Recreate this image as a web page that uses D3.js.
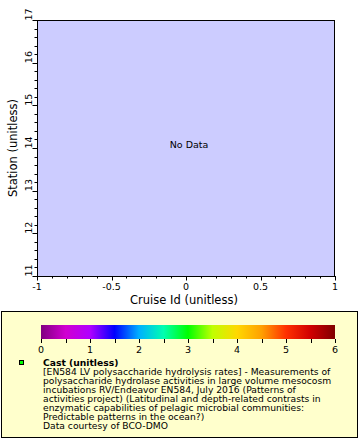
<!DOCTYPE html>
<html>
<head>
<meta charset="utf-8">
<script src="https://cdn.jsdelivr.net/npm/d3@7"></script>
<style>
  html, body { margin: 0; padding: 0; background: #ffffff; }
  svg { display: block; }
  text { font-family: "DejaVu Sans", sans-serif; }
</style>
</head>
<body>
<div id="chart"></div>
<script>
// ---- data ----
const xDomain = [-1, 1];
const yDomain = [11, 17];
const xTicks = [-1, -0.5, 0, 0.5, 1];
const xTickLabels = ["-1", "-0.5", "0", "0.5", "1"];
const yTicks = [11, 12, 13, 14, 15, 16, 17];
const yTickLabels = ["11", "12", "13", "14", "15", "16", "17"];
const xTitle = "Cruise Id (unitless)";
const yTitle = "Station (unitless)";
const noDataText = "No Data";
const cbarDomain = [0, 6];
const cbarTicks = [0, 1, 2, 3, 4, 5, 6];
const cbarStopValues = [0, 0.5, 1, 1.5, 2, 2.5, 3, 3.5, 4, 4.5, 5, 5.5, 6];
const cbarStopColors = ["#800080", "#d000d0", "#b000ff", "#0000ff", "#00b0ff", "#00ffb0", "#00ff00",
                        "#c0ff00", "#ffd800", "#ffa000", "#ff3000", "#d00000", "#800000"];
const legendTitle = "Cast (unitless)";
const legendLines = [
  "[EN584 LV polysaccharide hydrolysis rates] - Measurements of",
  "polysaccharide hydrolase activities in large volume mesocosm",
  "incubations RV/Endeavor EN584, July 2016 (Patterns of",
  "activities project) (Latitudinal and depth-related contrasts in",
  "enzymatic capabilities of pelagic microbial communities:",
  "Predictable patterns in the ocean?)",
  "Data courtesy of BCO-DMO"
];
const markerColor = "#00ff00";

// ---- layout ----
const W = 360, H = 440;
const plot = { left: 37, top: 20, right: 335, bottom: 276 };

const svg = d3.select("#chart").append("svg")
  .attr("width", W).attr("height", H);

const x = d3.scaleLinear().domain(xDomain).range([plot.left, plot.right]);
const y = d3.scaleLinear().domain(yDomain).range([plot.bottom, plot.top]);

// plot background
svg.append("rect")
  .attr("x", plot.left).attr("y", plot.top)
  .attr("width", plot.right - plot.left).attr("height", plot.bottom - plot.top)
  .attr("fill", "#ccccff");

// minor ticks
const xMinor = d3.range(-1, 1.0001, 0.1).map(v => +v.toFixed(2));
const yMinor = d3.range(11, 17.0001, 0.2).map(v => +v.toFixed(2));

const xAxisG = svg.append("g");
xAxisG.selectAll("line.minor").data(xMinor).join("line")
  .attr("x1", d => Math.round(x(d)) + 0.5).attr("x2", d => Math.round(x(d)) + 0.5)
  .attr("y1", plot.bottom).attr("y2", plot.bottom + 2.5)
  .attr("stroke", "#000").attr("stroke-width", 1);
xAxisG.selectAll("line.major").data(xTicks).join("line")
  .attr("x1", d => Math.round(x(d)) + 0.5).attr("x2", d => Math.round(x(d)) + 0.5)
  .attr("y1", plot.bottom).attr("y2", plot.bottom + 4.5)
  .attr("stroke", "#000").attr("stroke-width", 1);
xAxisG.selectAll("text").data(xTicks).join("text")
  .attr("x", d => x(d)).attr("y", 290)
  .attr("text-anchor", "middle")
  .attr("font-size", 9.5)
  .attr("fill", "#000")
  .text((d, i) => xTickLabels[i]);

const yAxisG = svg.append("g");
yAxisG.selectAll("line.minor").data(yMinor).join("line")
  .attr("y1", d => Math.round(y(d)) + 0.5).attr("y2", d => Math.round(y(d)) + 0.5)
  .attr("x1", plot.left).attr("x2", plot.left - 2.5)
  .attr("stroke", "#000").attr("stroke-width", 1);
yAxisG.selectAll("line.major").data(yTicks).join("line")
  .attr("y1", d => Math.round(y(d)) + 0.5).attr("y2", d => Math.round(y(d)) + 0.5)
  .attr("x1", plot.left).attr("x2", plot.left - 4.5)
  .attr("stroke", "#000").attr("stroke-width", 1);
yAxisG.selectAll("text").data(yTicks).join("text")
  .attr("transform", d => `translate(31.8,${y(d) + 0.5}) rotate(-90)`)
  .attr("text-anchor", "start")
  .attr("font-size", 9.5)
  .attr("fill", "#000")
  .text((d, i) => yTickLabels[i]);

// frame
svg.append("rect")
  .attr("x", plot.left + 0.5).attr("y", plot.top + 0.5)
  .attr("width", plot.right - plot.left - 1).attr("height", plot.bottom - plot.top)
  .attr("fill", "none").attr("stroke", "#000").attr("stroke-width", 1);

// axis titles
svg.append("text")
  .attr("x", (plot.left + plot.right) / 2 - 2).attr("y", 304)
  .attr("text-anchor", "middle").attr("font-size", 11.5).attr("fill", "#000")
  .text(xTitle);
svg.append("text")
  .attr("transform", `translate(16.7,${(plot.top + plot.bottom) / 2}) rotate(-90)`)
  .attr("text-anchor", "middle").attr("font-size", 11.5).attr("fill", "#000")
  .text(yTitle);

// No data
svg.append("text")
  .attr("x", (plot.left + plot.right) / 2 + 3).attr("y", 147.5)
  .attr("text-anchor", "middle").attr("font-size", 9.5).attr("fill", "#000")
  .text(noDataText);

// ---- legend ----
svg.append("rect")
  .attr("x", 1.5).attr("y", 311.5).attr("width", 356).attr("height", 126)
  .attr("fill", "#ffffcc").attr("stroke", "#000").attr("stroke-width", 1);

const cb = { left: 41, right: 335, top: 325, bottom: 339 };
const c = d3.scaleLinear().domain(cbarDomain).range([cb.left, cb.right]);
const grad = svg.append("defs").append("linearGradient")
  .attr("id", "cbar").attr("x1", "0%").attr("x2", "100%").attr("y1", "0%").attr("y2", "0%");
grad.selectAll("stop").data(cbarStopValues).join("stop")
  .attr("offset", d => ((d - cbarDomain[0]) / (cbarDomain[1] - cbarDomain[0]) * 100) + "%")
  .attr("stop-color", (d, i) => cbarStopColors[i]);
svg.append("rect")
  .attr("x", cb.left).attr("y", cb.top)
  .attr("width", cb.right - cb.left).attr("height", cb.bottom - cb.top)
  .attr("fill", "url(#cbar)");
const cbMinor = d3.range(0, 6.0001, 0.5);
svg.append("g").selectAll("line").data(cbMinor).join("line")
  .attr("x1", d => Math.round(c(d)) + 0.5).attr("x2", d => Math.round(c(d)) + 0.5)
  .attr("y1", cb.bottom).attr("y2", cb.bottom + 4)
  .attr("stroke", "#000").attr("stroke-width", 1);
svg.append("g").selectAll("text").data(cbarTicks).join("text")
  .attr("x", d => c(d)).attr("y", 352.5)
  .attr("text-anchor", "middle").attr("font-size", 9.5).attr("fill", "#000")
  .text(d => d);

// marker
svg.append("rect")
  .attr("x", 19.5).attr("y", 360.5).attr("width", 4).attr("height", 4)
  .attr("fill", markerColor).attr("stroke", "#000").attr("stroke-width", 1);

const legendText = svg.append("g").attr("font-size", 9.2).attr("fill", "#000");
legendText.append("text")
  .attr("x", 43).attr("y", 365.5).attr("font-weight", "bold")
  .text(legendTitle);
legendText.selectAll("text.line").data(legendLines).join("text")
  .attr("class", "line")
  .attr("x", 43).attr("y", (d, i) => 365.5 + (i + 1) * 9.1)
  .text(d => d);
</script>
</body>
</html>
